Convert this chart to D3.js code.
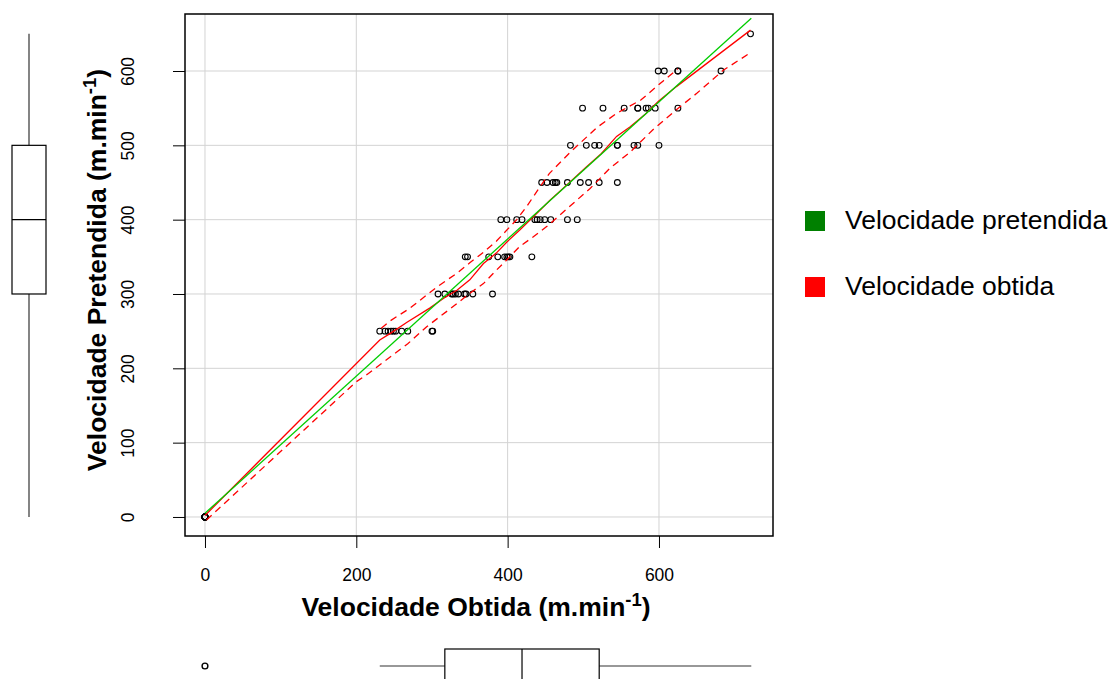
<!DOCTYPE html>
<html>
<head>
<meta charset="utf-8">
<script src="https://cdn.jsdelivr.net/npm/d3@7"></script>
<style>
  body { margin: 0; background: #fff; }
  svg { display: block; }
  text { font-family: "Liberation Sans", Arial, Helvetica, sans-serif; }
</style>
</head>
<body>
<svg id="chart" width="1112" height="679"></svg>
<script>
// ---- data ----
const niveis = [0, 250, 300, 350, 400, 450, 500, 550, 600, 650];
const obtidas = [
  [0, 0, 0, 0, 0, 0, 0, 0, 0, 0],
  [231, 238, 242, 246, 249, 252, 260, 268, 300, 301],
  [308, 317, 326, 328, 331, 335, 343, 345, 354, 380],
  [344, 347, 375, 387, 396, 399, 401, 403, 432],
  [391, 399, 412, 419, 436, 439, 443, 449, 457, 479, 492],
  [445, 452, 460, 463, 465, 479, 496, 507, 521, 545],
  [483, 504, 515, 521, 545, 545, 567, 572, 600],
  [499, 526, 554, 572, 572, 583, 586, 595, 625],
  [599, 607, 625, 625, 682],
  [721]
];

const xTicks = [0, 200, 400, 600];
const yTicks = [0, 100, 200, 300, 400, 500, 600];

// green fitted line
const retaX = [0, 722];
const retaY = [5, 671];

// red smooth and its dashed band
const mediaX = [0, 231, 245, 267, 297, 315, 333, 350, 368, 385, 399, 416, 438, 456, 471, 504, 524, 544, 562, 581, 599, 623, 721];
const mediaY = [2, 238, 247, 262, 281, 294, 305, 319, 341, 355, 370, 386, 408, 426, 440, 471, 489, 512, 525, 541, 559, 579, 655];
const supX = [233, 245, 271, 306, 333, 350, 368, 385, 412, 426, 440, 455, 482, 518, 544, 576, 606, 625];
const supY = [254, 264, 281, 309, 328, 342, 356, 371, 400, 419, 440, 462, 490, 524, 543, 561, 587, 603];
const infX = [2, 200, 216, 234, 268, 293, 333, 350, 368, 385, 399, 416, 434, 452, 480, 509, 535, 562, 592, 623, 650, 685, 720];
const infY = [-4, 182, 193, 207, 233, 256, 287, 301, 314, 332, 346, 364, 377, 391, 416, 442, 469, 491, 521, 548, 570, 601, 624];

// boxplot stats: [lower whisker, Q1, median, Q3, upper whisker]
const boxObtida = [231, 317, 419, 521, 722];
const outObtida = [0];
const boxPretendida = [0, 300, 400, 500, 650];

const legendaNomes = ["Velocidade pretendida", "Velocidade obtida"];
const legendaCores = ["#008000", "#ff0000"];

// ---- drawing ----
const svg = d3.select("#chart");
const box = { left: 185, right: 773, top: 14, bottom: 536 };

const x = d3.scaleLinear().domain([-26.4, 750.7]).range([box.left, box.right]);
const y = d3.scaleLinear().domain([-25.6, 676.7]).range([box.bottom, box.top]);

// grid
svg.append("g").selectAll("line")
  .data(xTicks).enter().append("line")
  .attr("x1", d => x(d)).attr("x2", d => x(d))
  .attr("y1", box.top).attr("y2", box.bottom)
  .attr("stroke", "#d3d3d3").attr("stroke-width", 1);
svg.append("g").selectAll("line")
  .data(yTicks).enter().append("line")
  .attr("x1", box.left).attr("x2", box.right)
  .attr("y1", d => y(d)).attr("y2", d => y(d))
  .attr("stroke", "#d3d3d3").attr("stroke-width", 1);

// axes
const xAxis = svg.append("g")
  .attr("transform", `translate(0,${box.bottom})`)
  .call(d3.axisBottom(x).tickValues(xTicks).tickSize(12).tickPadding(21).tickFormat(d3.format("d")));
xAxis.select(".domain").remove();
xAxis.selectAll("text").attr("font-size", "17.5px").attr("fill", "#000");

const yAxis = svg.append("g")
  .attr("transform", `translate(${box.left},0)`)
  .call(d3.axisLeft(y).tickValues(yTicks).tickSize(12).tickFormat(d3.format("d")));
yAxis.select(".domain").remove();
yAxis.selectAll("text")
  .attr("x", 0).attr("dy", 0)
  .attr("text-anchor", "middle")
  .attr("transform", "translate(-51,0) rotate(-90)")
  .attr("font-size", "17.5px").attr("fill", "#000");
svg.selectAll(".tick line").attr("stroke", "#000");

// points
const pontos = [];
niveis.forEach((v, i) => obtidas[i].forEach(o => pontos.push({ o: o, p: v })));
svg.append("g").selectAll("circle")
  .data(pontos).enter().append("circle")
  .attr("cx", d => x(d.o)).attr("cy", d => y(d.p))
  .attr("r", 2.9)
  .attr("fill", "none").attr("stroke", "#000").attr("stroke-width", 1.1);

// lines
const linha = d3.line().x(d => x(d[0])).y(d => y(d[1]));
const par = (xs, ys) => xs.map((v, i) => [v, ys[i]]);

svg.append("path").datum(par(supX, supY)).attr("d", linha)
  .attr("fill", "none").attr("stroke", "#ff0000").attr("stroke-width", 1.3).attr("stroke-dasharray", "7,5");
svg.append("path").datum(par(infX, infY)).attr("d", linha)
  .attr("fill", "none").attr("stroke", "#ff0000").attr("stroke-width", 1.3).attr("stroke-dasharray", "7,5");
svg.append("path").datum(par(mediaX, mediaY)).attr("d", linha)
  .attr("fill", "none").attr("stroke", "#ff0000").attr("stroke-width", 1.3);
svg.append("path").datum(par(retaX, retaY)).attr("d", linha)
  .attr("fill", "none").attr("stroke", "#00cd00").attr("stroke-width", 1.3);

// plot frame
svg.append("rect")
  .attr("x", box.left).attr("y", box.top)
  .attr("width", box.right - box.left).attr("height", box.bottom - box.top)
  .attr("fill", "none").attr("stroke", "#000").attr("stroke-width", 1.5);

// axis titles
const xt = svg.append("text")
  .attr("x", (box.left + box.right) / 2 - 3).attr("y", 616)
  .attr("text-anchor", "middle").attr("font-weight", "bold").attr("font-size", "26.5px");
xt.append("tspan").text("Velocidade Obtida (m.min");
xt.append("tspan").attr("dy", -10).attr("font-size", "18.5px").text("-1");
xt.append("tspan").attr("dy", 10).text(")");

const yt = svg.append("text")
  .attr("transform", `translate(106,${(box.top + box.bottom) / 2 - 5}) rotate(-90)`)
  .attr("text-anchor", "middle").attr("font-weight", "bold").attr("font-size", "26.5px");
yt.append("tspan").text("Velocidade Pretendida (m.min");
yt.append("tspan").attr("dy", -10).attr("font-size", "18.5px").text("-1");
yt.append("tspan").attr("dy", 10).text(")");

// left boxplot (pretendida)
const bx = 29, bw = 17;
const lb = svg.append("g");
lb.append("line").attr("x1", bx).attr("x2", bx)
  .attr("y1", y(boxPretendida[0])).attr("y2", y(boxPretendida[1]))
  .attr("stroke", "#333").attr("stroke-width", 1.2);
lb.append("line").attr("x1", bx).attr("x2", bx)
  .attr("y1", y(boxPretendida[3])).attr("y2", y(boxPretendida[4]))
  .attr("stroke", "#333").attr("stroke-width", 1.2);
lb.append("rect").attr("x", bx - bw).attr("width", 2 * bw)
  .attr("y", y(boxPretendida[3])).attr("height", y(boxPretendida[1]) - y(boxPretendida[3]))
  .attr("fill", "none").attr("stroke", "#000").attr("stroke-width", 1.2);
lb.append("line").attr("x1", bx - bw).attr("x2", bx + bw)
  .attr("y1", y(boxPretendida[2])).attr("y2", y(boxPretendida[2]))
  .attr("stroke", "#000").attr("stroke-width", 1.2);

// bottom boxplot (obtida)
const by = 666, bh = 17;
const bb = svg.append("g");
bb.append("line").attr("y1", by).attr("y2", by)
  .attr("x1", x(boxObtida[0])).attr("x2", x(boxObtida[1]))
  .attr("stroke", "#333").attr("stroke-width", 1.2);
bb.append("line").attr("y1", by).attr("y2", by)
  .attr("x1", x(boxObtida[3])).attr("x2", x(boxObtida[4]))
  .attr("stroke", "#333").attr("stroke-width", 1.2);
bb.append("rect").attr("y", by - bh).attr("height", 2 * bh)
  .attr("x", x(boxObtida[1])).attr("width", x(boxObtida[3]) - x(boxObtida[1]))
  .attr("fill", "none").attr("stroke", "#000").attr("stroke-width", 1.2);
bb.append("line").attr("y1", by - bh).attr("y2", by + bh)
  .attr("x1", x(boxObtida[2])).attr("x2", x(boxObtida[2]))
  .attr("stroke", "#000").attr("stroke-width", 1.2);
bb.selectAll("circle").data(outObtida).enter().append("circle")
  .attr("cx", d => x(d)).attr("cy", by).attr("r", 2.9)
  .attr("fill", "none").attr("stroke", "#000").attr("stroke-width", 1.4);

// legend
const leg = svg.append("g").selectAll("g")
  .data(legendaNomes).enter().append("g")
  .attr("transform", (d, i) => `translate(805,${211 + i * 66})`);
leg.append("rect").attr("width", 20).attr("height", 20)
  .attr("fill", (d, i) => legendaCores[i]);
leg.append("text").attr("x", 40).attr("y", 18)
  .attr("font-size", "26.5px").attr("fill", "#000")
  .text(d => d);
</script>
</body>
</html>
